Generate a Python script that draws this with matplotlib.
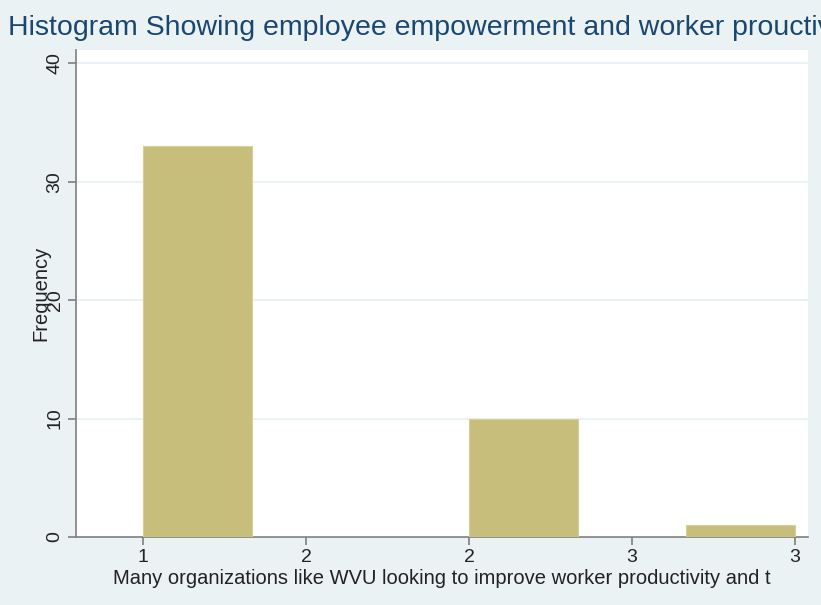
import matplotlib.pyplot as plt
from matplotlib.ticker import FixedLocator

# response values and how often each was picked
valores = [1, 2, 3]
frecuencias = [33, 10, 1]
tick_pos = [1, 1.5, 2, 2.5, 3]
tick_labels = ['1', '2', '2', '3', '3']
y_ticks = [0, 10, 20, 30, 40]

plt.rcParams['font.family'] = ['Liberation Sans', 'DejaVu Sans']

fig = plt.figure(figsize=(8.21, 6.05), dpi=100)
fig.patch.set_facecolor('#eaf2f3')
ax = fig.add_axes([0.0926, 0.1124, 0.8914, 0.8046])
ax.set_facecolor('white')

ax.hist(valores, bins=6, range=(1, 3), weights=frecuencias,
        color='#c8be7c', edgecolor='#d6cf9a', linewidth=0.8, zorder=3)

ax.set_xlim(0.794, 3.04)
ax.set_ylim(0, 41.1)

ax.yaxis.set_major_locator(FixedLocator(y_ticks))
ax.set_yticklabels([str(v) for v in y_ticks], rotation=90, va='center', fontsize=14, color='#222222')
ax.set_xticks(tick_pos)
ax.set_xticklabels(tick_labels, fontsize=14, color='#222222')

for v in y_ticks[1:]:
    ax.axhline(v, color='#eaf2f3', linewidth=1.5, zorder=1)

for side in ['top', 'right']:
    ax.spines[side].set_visible(False)
for side in ['left', 'bottom']:
    ax.spines[side].set_color('#7f7f7f')
    ax.spines[side].set_linewidth(1.2)
ax.tick_params(axis='both', colors='#7f7f7f', length=6, width=1.2, labelcolor='#222222')
ax.tick_params(axis='x', pad=3)
ax.tick_params(axis='y', pad=3)

ax.set_ylabel('Frequency', fontsize=14.5, color='#222222', labelpad=-3)
ax.set_xlabel('Many organizations like WVU looking to improve worker productivity and t',
              fontsize=14.5, color='#222222', labelpad=2)

fig.text(0.01, 0.953, 'Histogram Showing employee empowerment and worker prouctivity',
         fontsize=20.5, color='#1a476f', ha='left', va='center')

fig.savefig('out.png', dpi=100, facecolor=fig.get_facecolor())
